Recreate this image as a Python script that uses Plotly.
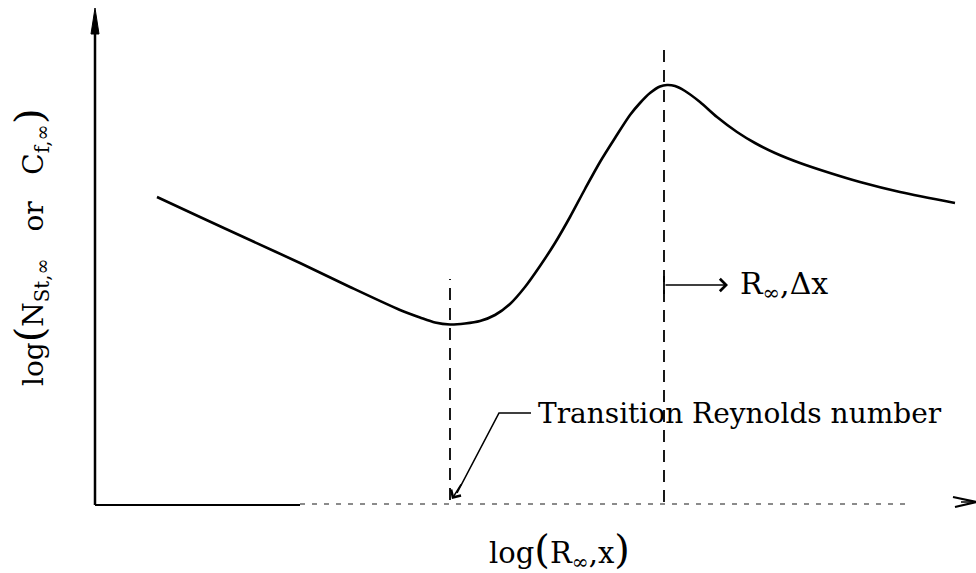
import plotly.graph_objects as go

# Schematic curve (arbitrary log units)
log_R = [62, 105, 155, 205, 255, 305, 325, 340, 355, 370, 385, 400, 415, 430, 445, 460,
         475, 490, 505, 520, 535, 545, 555, 565, 572, 580, 590, 605, 622, 642, 660, 680,
         705, 735, 765, 805, 860]
log_N = [308, 288, 265, 242, 218, 195, 187.5, 182.5, 180.5, 181.5, 184, 190, 201, 218, 239, 262,
         288, 316, 343, 367, 390, 402, 412, 418.5, 420, 419, 414, 403, 388, 373, 362, 352,
         342, 332, 323, 313, 302]

x_transition = 355
x_peak = 569
transition_top = 226
peak_top = 457
x_axis_end = 881
y_axis_end = 497

FONT = "DejaVu Serif"

fig = go.Figure()

# axes (hand-drawn style)
fig.add_trace(go.Scatter(x=[0, 0], y=[0, y_axis_end - 20], mode="lines",
                         line=dict(color="black", width=2.5), hoverinfo="skip"))
fig.add_trace(go.Scatter(x=[-4, 0, 4, -4], y=[y_axis_end - 26, y_axis_end, y_axis_end - 26, y_axis_end - 26],
                         mode="lines", fill="toself", fillcolor="black",
                         line=dict(color="black", width=1), hoverinfo="skip"))
fig.add_trace(go.Scatter(x=[0, 205], y=[0, 0], mode="lines",
                         line=dict(color="black", width=2.2), hoverinfo="skip"))
fig.add_trace(go.Scatter(x=[205, 810], y=[1, 1], mode="lines",
                         line=dict(color="#666666", width=1.4, dash="5px,7px"), hoverinfo="skip"))
fig.add_trace(go.Scatter(x=[858, x_axis_end, 860], y=[8, 3, -2], mode="lines",
                         line=dict(color="black", width=2.2), hoverinfo="skip"))
fig.add_trace(go.Scatter(x=[866, x_axis_end], y=[3, 3], mode="lines",
                         line=dict(color="black", width=1.5), hoverinfo="skip"))

# dashed reference lines
fig.add_trace(go.Scatter(x=[x_transition, x_transition], y=[5, transition_top], mode="lines",
                         line=dict(color="black", width=1.8, dash="12px,8px"), hoverinfo="skip"))
fig.add_trace(go.Scatter(x=[x_peak, x_peak], y=[3, peak_top], mode="lines",
                         line=dict(color="black", width=1.8, dash="12px,8px"), hoverinfo="skip"))

# main curve
fig.add_trace(go.Scatter(x=log_R, y=log_N, mode="lines",
                         line=dict(color="black", width=2.6, shape="spline", smoothing=0.8),
                         hoverinfo="skip"))

# R_inf,Δx arrow
fig.add_trace(go.Scatter(x=[x_peak, x_peak], y=[211, 229], mode="lines",
                         line=dict(color="black", width=1.8), hoverinfo="skip"))
fig.add_annotation(x=x_peak + 64, y=220, ax=x_peak, ay=220, xref="x", yref="y",
                   axref="x", ayref="y", showarrow=True, arrowhead=4, arrowsize=1.5,
                   arrowwidth=1.6, arrowcolor="black", text="")
fig.add_annotation(x=x_peak + 74, y=220, xref="x", yref="y", showarrow=False,
                   xanchor="left", yanchor="middle",
                   text="R<sub>∞</sub>,Δx", font=dict(family=FONT, size=30, color="black"))

# Transition leader
fig.add_trace(go.Scatter(x=[436, 404, 362], y=[92, 92, 12], mode="lines",
                         line=dict(color="black", width=1.6), hoverinfo="skip"))
fig.add_annotation(x=x_transition + 2, y=6, ax=367, ay=22, xref="x", yref="y",
                   axref="x", ayref="y", showarrow=True, arrowhead=4, arrowsize=1.5,
                   arrowwidth=1.5, arrowcolor="black", text="")
fig.add_annotation(x=441, y=92, xref="x", yref="y", showarrow=False,
                   xanchor="left", yanchor="middle",
                   text="Transition Reynolds number",
                   font=dict(family=FONT, size=28, color="black"))

# axis titles
fig.add_annotation(x=464, y=-45, xref="x", yref="y", showarrow=False,
                   xanchor="center", yanchor="middle",
                   text="log<span style='font-size:40px'>(</span>R<sub>∞</sub>,x<span style='font-size:40px'>)</span>",
                   font=dict(family=FONT, size=29, color="black"))
fig.add_annotation(x=-65, y=258, xref="x", yref="y", showarrow=False, textangle=-90,
                   xanchor="center", yanchor="middle",
                   text="log<span style='font-size:40px'>(</span>N<sub>St,∞</sub>\u00a0\u00a0\u00a0or\u00a0\u00a0\u00a0C<sub>f,∞</sub><span style='font-size:40px'>)</span>",
                   font=dict(family=FONT, size=28, color="black"))

fig.update_layout(
    width=976, height=573,
    margin=dict(l=0, r=0, t=0, b=0),
    paper_bgcolor="white", plot_bgcolor="white",
    showlegend=False,
    xaxis=dict(range=[-95, 881], visible=False, fixedrange=True),
    yaxis=dict(range=[-68, 505], visible=False, fixedrange=True),
)

fig.write_html("out.html")
